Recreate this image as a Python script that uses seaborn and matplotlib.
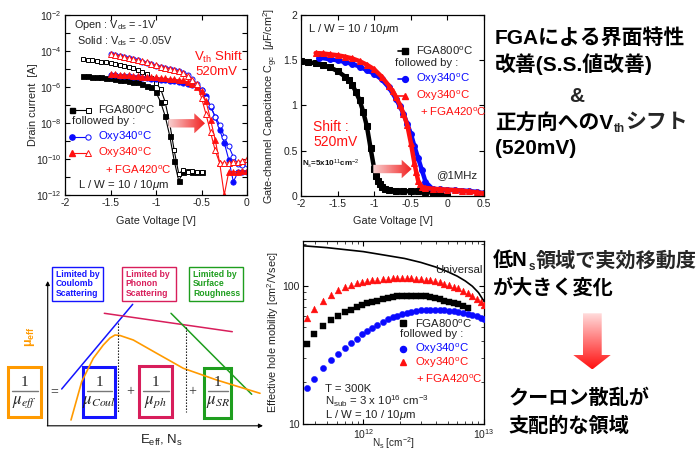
import numpy as np
import matplotlib
matplotlib.use("Agg")
import matplotlib.pyplot as plt
import seaborn as sns
from matplotlib.patches import Rectangle, Polygon
from matplotlib.colors import LinearSegmentedColormap
from matplotlib.ticker import NullFormatter

sns.set_theme(style="ticks")
plt.rcParams['font.family'] = ['Liberation Sans', 'Noto Sans CJK JP', 'DejaVu Sans']
plt.rcParams['mathtext.fontset'] = 'custom'
plt.rcParams['mathtext.rm'] = 'Liberation Sans'
plt.rcParams['mathtext.it'] = 'Liberation Sans:italic'
plt.rcParams['mathtext.bf'] = 'Liberation Sans:bold'
plt.rcParams['mathtext.sf'] = 'Liberation Sans'

# ---------------- data: Id-Vg ----------------
vg_fga = [-1.80, -1.75, -1.70, -1.65, -1.60, -1.55, -1.50, -1.45, -1.40, -1.35, -1.30, -1.25,
          -1.20, -1.15, -1.10, -1.05, -1.00, -0.95, -0.90, -0.85, -0.80, -0.75, -0.70, -0.65,
          -0.60, -0.55, -0.50]
id_fga_open = [3.5e-5, 3.2e-5, 3.0e-5, 2.8e-5, 2.6e-5, 2.3e-5, 2.1e-5, 1.9e-5, 1.7e-5, 1.5e-5,
               1.3e-5, 1.1e-5, 9e-6, 7e-6, 5e-6, 3.2e-6, 1.6e-6, 8e-7, 1.5e-7, 1e-8, 3e-10,
               1.5e-11, 2.5e-11, 2e-11, 2.2e-11, 1.8e-11, 2e-11]
id_fga_solid = [4.2e-6, 4.0e-6, 3.8e-6, 3.6e-6, 3.4e-6, 3.2e-6, 3.0e-6, 2.8e-6, 2.6e-6, 2.4e-6,
                2.2e-6, 2.0e-6, 1.8e-6, 1.5e-6, 1.2e-6, 1.0e-6, 5e-7, 1.5e-7, 2.5e-8, 2e-9,
                8e-11, 6e-12, 2e-11, 2.2e-11, 2e-11, 2e-11, 2e-11]
vg_oxy = [-1.50, -1.45, -1.40, -1.35, -1.30, -1.25, -1.20, -1.15, -1.10, -1.05, -1.00, -0.95,
          -0.90, -0.85, -0.80, -0.75, -0.70, -0.65, -0.60, -0.55, -0.50, -0.45, -0.40, -0.35,
          -0.30, -0.25, -0.20, -0.15, -0.10, -0.05, 0.00]
id_oxy_open = [6.8e-5, 6.0e-5, 5.2e-5, 4.6e-5, 4.0e-5, 3.5e-5, 3.0e-5, 2.6e-5, 2.2e-5, 1.8e-5,
               1.5e-5, 1.3e-5, 1.15e-5, 1.0e-5, 8.8e-6, 7.6e-6, 6.3e-6, 4.6e-6, 2.8e-6, 1.5e-6,
               7e-7, 2.5e-7, 9e-8, 2.2e-8, 8e-9, 1.7e-9, 5e-10, 1.3e-10, 5.5e-11, 4.5e-11, 5.5e-11]
id_oxy_solid = [4.7e-6, 4.5e-6, 4.3e-6, 4.1e-6, 3.9e-6, 3.7e-6, 3.5e-6, 3.3e-6, 3.1e-6, 2.9e-6,
                2.7e-6, 2.55e-6, 2.4e-6, 2.25e-6, 2.1e-6, 1.9e-6, 1.75e-6, 1.5e-6, 1.3e-6, 1.1e-6,
                6.8e-7, 3.2e-7, 8e-8, 2.2e-8, 4e-9, 8e-10, 9e-11, 5.5e-12, 1.8e-11, 2e-11, 2e-11]
id_fga420_open = [7e-5, 6.2e-5, 5.4e-5, 4.7e-5, 4.1e-5, 3.6e-5, 3.1e-5, 2.7e-5, 2.3e-5, 1.9e-5,
                  1.6e-5, 1.35e-5, 1.2e-5, 1.05e-5, 9e-6, 7.5e-6, 6e-6, 4.2e-6, 2.5e-6, 1.5e-6,
                  2.5e-7, 3e-8, 3e-9, 3e-10, 6e-11, 6e-11, 6e-11, 7e-11, 7e-11, 8e-11, 1e-10]
id_fga420_solid = [5.2e-6, 5.0e-6, 4.8e-6, 4.6e-6, 4.4e-6, 4.2e-6, 4.0e-6, 3.8e-6, 3.6e-6, 3.5e-6,
                   3.4e-6, 3.2e-6, 3.0e-6, 2.8e-6, 2.7e-6, 2.5e-6, 2.3e-6, 1.9e-6, 1.4e-6, 1.0e-6,
                   6e-7, 1.6e-7, 1.5e-8, 1.2e-9, 6e-11, 1e-12, 2e-11, 2e-11, 2e-11, 2.2e-11, 2.2e-11]
id_xticks = [-2, -1.5, -1, -0.5, 0]
id_xticklabels = ["-2", "-1.5", "-1", "-0.5", "0"]
id_yticks = [1e-12, 1e-11, 1e-10, 1e-9, 1e-8, 1e-7, 1e-6, 1e-5, 1e-4, 1e-3, 1e-2]
id_yticklabels = ["$10^{-12}$", "", "$10^{-10}$", "", "$10^{-8}$", "", "$10^{-6}$", "",
                  "$10^{-4}$", "", "$10^{-2}$"]

# ---------------- data: C-V ----------------
cv_vg_fga = [-2.0, -1.9, -1.8, -1.7, -1.6, -1.5, -1.4, -1.35, -1.3, -1.25, -1.2, -1.15, -1.1,
             -1.05, -1.0, -0.975, -0.95, -0.925, -0.9, -0.85, -0.8, -0.7, -0.6, -0.5, -0.4,
             -0.3, -0.2, -0.1, 0.0]
cv_c_fga = [1.49, 1.48, 1.465, 1.445, 1.42, 1.38, 1.32, 1.28, 1.23, 1.15, 1.06, 0.93, 0.77,
            0.53, 0.30, 0.22, 0.17, 0.13, 0.10, 0.08, 0.07, 0.06, 0.055, 0.05, 0.05, 0.045,
            0.035, 0.015, 0.005]
cv_vg_oxy = [-1.75, -1.6, -1.5, -1.4, -1.3, -1.2, -1.1, -1.0, -0.9, -0.8, -0.7, -0.65, -0.6,
             -0.55, -0.5, -0.45, -0.4, -0.35, -0.3, -0.275, -0.25, -0.2, -0.1, 0.0, 0.1, 0.2,
             0.3, 0.4, 0.5]
cv_c_oxy = [1.53, 1.51, 1.50, 1.48, 1.46, 1.43, 1.39, 1.35, 1.29, 1.20, 1.07, 0.99, 0.91, 0.80,
            0.69, 0.55, 0.42, 0.29, 0.16, 0.12, 0.095, 0.08, 0.072, 0.068, 0.065, 0.06, 0.055,
            0.045, 0.03]
cv_vg_fga420 = [-1.8, -1.7, -1.6, -1.5, -1.4, -1.3, -1.2, -1.1, -1.0, -0.9, -0.8, -0.75, -0.7,
                -0.65, -0.6, -0.55, -0.5, -0.45, -0.425, -0.4, -0.375, -0.35, -0.3, -0.2, -0.1,
                0.0, 0.1, 0.2, 0.3, 0.4, 0.5]
cv_c_fga420 = [1.58, 1.575, 1.565, 1.555, 1.54, 1.52, 1.49, 1.45, 1.40, 1.32, 1.22, 1.16, 1.09,
               1.01, 0.91, 0.79, 0.59, 0.36, 0.26, 0.17, 0.13, 0.10, 0.09, 0.08, 0.075, 0.07,
               0.065, 0.06, 0.05, 0.04, 0.03]
cv_xticks = [-2, -1.5, -1, -0.5, 0, 0.5]
cv_xticklabels = ["-2", "-1.5", "-1", "-0.5", "0", "0.5"]
cv_yticks = [0, 0.5, 1, 1.5, 2]
cv_yticklabels = ["0", "0.5", "1", "1.5", "2"]

# ---------------- data: mobility ----------------
ns = [3.4e11, 3.9e11, 4.6e11, 5.4e11, 6.2e11, 7.0e11, 7.9e11, 8.8e11, 9.8e11, 1.08e12, 1.19e12,
      1.3e12, 1.45e12, 1.6e12, 1.75e12, 1.9e12, 2.1e12, 2.3e12, 2.5e12, 2.75e12, 3.0e12, 3.3e12,
      3.6e12, 3.9e12, 4.3e12, 4.7e12, 5.1e12, 5.6e12, 6.1e12, 6.7e12, 7.3e12, 8.0e12, 8.7e12,
      9.4e12, 1.0e13]
mu_fga420 = [58, 68, 78, 85.5, 93, 98, 101.5, 104, 106, 107.5, 109, 110.5, 111.5, 112.5, 113,
             113.5, 113.5, 113.5, 113, 112.5, 111.5, 110.5, 109, 107.5, 106, 103, 101, 98.5, 96,
             92, 88.5, 84, 79.5, 75.5, 72]
mu_fga = [38, 44.5, 51, 56, 60, 64, 67, 70, 73, 74.5, 76, 78, 80, 81.5, 82.5, 83.5, 84, 84.5,
          84.5, 84.5, 84, 83.5, 82.5, 81, 79.5, 78, 76.5, 75, 73.5, 71, 69]
mu_oxy = [18.3, 21.2, 25.2, 29.2, 32.3, 35.2, 38.6, 41.3, 44.5, 47, 49.6, 52, 54.8, 57.3, 59,
          60.7, 62.3, 63.6, 64.7, 65.8, 66.6, 66.9, 67, 66.9, 66.6, 66.1, 65.6, 65, 64.3, 63.4,
          62.5, 61.2, 59.9, 58.6, 57.5]
ns_univ = [3.16e11, 5e11, 1e12, 1.5e12, 2.2e12, 3e12, 4e12, 5e12, 6e12, 7e12, 8e12, 9e12, 1e13]
mu_univ = [194, 188, 176, 166, 157, 147, 136, 126, 117, 108, 99, 89, 77]
mob_xticks = [1e12, 1e13]
mob_xticklabels = ["$10^{12}$", "$10^{13}$"]
mob_yticks = [10, 100]
mob_yticklabels = ["10", "100"]

# ---------------- schematic (mobility model) ----------------
sch_coul_x = [61.7, 132.7]
sch_coul_y = [389, 304.3]
sch_ph_x = [104.3, 232.3]
sch_ph_y = [313.3, 331.7]
sch_sr_x = [171, 251.7]
sch_sr_y = [313.3, 394.3]
sch_eff_x = [71, 81.7, 93.3, 103.3, 110, 115, 120, 133.3, 156.7, 183.3, 216.7, 260]
sch_eff_y = [420, 381.7, 358.3, 345, 338, 335, 335.5, 340, 353.3, 368.3, 380, 393.3]

BLACK, BLUE, RED = 'black', '#0a0aff', '#ff1010'
ORANGE, SBLUE, PINK, GREEN = '#ff9a00', '#1414ff', '#d81e5b', '#1e9e1e'

W, H = 696, 450
fig = plt.figure(figsize=(W / 100, H / 100), dpi=100)
fig.patch.set_facecolor('white')


def px_axes(x0, y0, x1, y1):
    return fig.add_axes([x0 / W, 1 - y1 / H, (x1 - x0) / W, (y1 - y0) / H])


def style(ax):
    ax.tick_params(which='major', direction='in', top=True, right=True, length=3.5,
                   width=0.8, labelsize=7.5, color='black', labelcolor='#222222', pad=2.5)
    ax.tick_params(which='minor', direction='in', top=True, right=True, length=2, width=0.6)
    for s in ax.spines.values():
        s.set_linewidth(0.9)
        s.set_color('black')
        s.set_visible(True)


ax1 = px_axes(65, 15, 247, 195)
ax2 = px_axes(301, 15, 484, 196)
ax3 = px_axes(303, 241, 484, 424)
ov = fig.add_axes([0, 0, 1, 1])
ov.set_zorder(5)
ov.patch.set_alpha(0)
ov.axis('off')

# ---------------- panel 1: Id-Vg ----------------
common = dict(ax=ax1, estimator=None, sort=False, linewidth=0.8)
sns.lineplot(x=vg_fga, y=id_fga_solid, color=BLACK, marker='s', markersize=3.6,
             markerfacecolor=BLACK, markeredgecolor=BLACK, markeredgewidth=0.6, **common)
sns.lineplot(x=vg_fga, y=id_fga_open, color=BLACK, marker='s', markersize=3.4,
             markerfacecolor='white', markeredgecolor=BLACK, markeredgewidth=0.7, **common)
sns.lineplot(x=vg_oxy, y=id_oxy_solid, color=BLUE, marker='o', markersize=3.8,
             markerfacecolor=BLUE, markeredgecolor=BLUE, markeredgewidth=0.6, **common)
sns.lineplot(x=vg_oxy, y=id_oxy_open, color=BLUE, marker='o', markersize=3.6,
             markerfacecolor='white', markeredgecolor=BLUE, markeredgewidth=0.7, **common)
sns.lineplot(x=vg_oxy, y=id_fga420_solid, color=RED, marker='^', markersize=4.2,
             markerfacecolor=RED, markeredgecolor=RED, markeredgewidth=0.6, **common)
sns.lineplot(x=vg_oxy, y=id_fga420_open, color=RED, marker='^', markersize=4.0,
             markerfacecolor='white', markeredgecolor=RED, markeredgewidth=0.7, **common)
ax1.set_yscale('log')
ax1.set_xlim(-2, 0)
ax1.set_ylim(1e-12, 1e-2)
ax1.set_xticks(id_xticks)
ax1.set_xticklabels(id_xticklabels)
ax1.set_yticks(id_yticks)
ax1.set_yticklabels(id_yticklabels)
ax1.yaxis.set_minor_formatter(NullFormatter())
ax1.yaxis.set_minor_locator(matplotlib.ticker.NullLocator())
style(ax1)
ax1.set_xlabel("Gate Voltage [V]", fontsize=7.8, color='#222222')
ax1.set_ylabel("Drain current  [A]", fontsize=7.8, color='#222222')
ax1.xaxis.set_label_coords(0.5, -0.115)
ax1.yaxis.set_label_coords(-0.15, 0.5)

# ---------------- panel 2: C-V ----------------
common2 = dict(ax=ax2, estimator=None, sort=False, linewidth=3.2)
sns.lineplot(x=cv_vg_fga, y=cv_c_fga, color=BLACK, marker='s', markersize=4,
             markerfacecolor=BLACK, markeredgecolor=BLACK, **common2)
sns.lineplot(x=cv_vg_oxy, y=cv_c_oxy, color=BLUE, marker='o', markersize=4.2,
             markerfacecolor=BLUE, markeredgecolor=BLUE, **common2)
sns.lineplot(x=cv_vg_fga420, y=cv_c_fga420, color=RED, marker='^', markersize=4.6,
             markerfacecolor=RED, markeredgecolor=RED, **common2)
ax2.set_xlim(-2, 0.5)
ax2.set_ylim(0, 2)
ax2.set_xticks(cv_xticks)
ax2.set_xticklabels(cv_xticklabels)
ax2.set_yticks(cv_yticks)
ax2.set_yticklabels(cv_yticklabels)
style(ax2)
ax2.set_xlabel("Gate Voltage [V]", fontsize=7.8, color='#222222')
ax2.set_ylabel(r"Gate-channel Capacitance C$_{\rm gc}$  [$\mu$F/cm$^{2}$]", fontsize=7.8,
               color='#222222')
ax2.xaxis.set_label_coords(0.5, -0.113)
ax2.yaxis.set_label_coords(-0.115, 0.5)

# ---------------- panel 3: mobility ----------------
sns.lineplot(x=ns_univ, y=mu_univ, ax=ax3, color=BLACK, linewidth=1.2, estimator=None, sort=False)
sns.scatterplot(x=ns[:len(mu_fga)], y=mu_fga, ax=ax3, color=BLACK, marker='s', s=16,
                edgecolor=BLACK, linewidth=0.3, zorder=3)
sns.scatterplot(x=ns, y=mu_oxy, ax=ax3, color=BLUE, marker='o', s=20, edgecolor=BLUE,
                linewidth=0.3, zorder=3)
sns.scatterplot(x=ns, y=mu_fga420, ax=ax3, color=RED, marker='^', s=24, edgecolor=RED,
                linewidth=0.3, zorder=3)
ax3.set_xscale('log')
ax3.set_yscale('log')
ax3.set_xlim(3.16e11, 1e13)
ax3.set_ylim(10, 210)
ax3.set_xticks(mob_xticks)
ax3.set_xticklabels(mob_xticklabels)
ax3.set_yticks(mob_yticks)
ax3.set_yticklabels(mob_yticklabels)
ax3.xaxis.set_minor_formatter(NullFormatter())
ax3.yaxis.set_minor_formatter(NullFormatter())
style(ax3)
ax3.set_xlabel(r"N$_{\rm s}$ [cm$^{-2}$]", fontsize=7.2, color='#222222')
ax3.set_ylabel(r"Effective hole mobility [cm$^{2}$/Vsec]", fontsize=7.8, color='#222222')
ax3.xaxis.set_label_coords(0.5, -0.062)
ax3.yaxis.set_label_coords(-0.12, 0.5)


# ---------------- overlay helpers ----------------
def grad_arrow(pts, c0, c1, vertical=False):
    poly = Polygon(pts, closed=True, facecolor='none', edgecolor='none')
    ov.add_patch(poly)
    xs = [p[0] for p in pts]
    ys = [p[1] for p in pts]
    g = np.linspace(0, 1, 256)
    grad = g[:, None] if vertical else g[None, :]
    cmap = LinearSegmentedColormap.from_list('g', [c0, c1])
    im = ov.imshow(grad, cmap=cmap, extent=(min(xs), max(xs), max(ys), min(ys)),
                   origin='upper', aspect='auto', interpolation='bilinear', zorder=4)
    im.set_clip_path(poly)


def harrow(x0, x1, xh, yc, hw, HW):
    return [(x0, yc - hw), (xh, yc - hw), (xh, yc - HW), (x1, yc), (xh, yc + HW),
            (xh, yc + hw), (x0, yc + hw)]


def legend_row(x_solid, x_open, y, color, marker, ms):
    ov.plot([x_solid, x_open], [y, y], color=color, lw=0.8, zorder=6)
    ov.plot([x_solid], [y], marker=marker, ms=ms, color=color, mec=color, zorder=7)
    ov.plot([x_open], [y], marker=marker, ms=ms, mfc='white', mec=color, mew=0.7, zorder=7)


fs_leg = 8.2
# panel 1 annotations
ov.text(74, 25.5, r"Open : V$_{\rm ds}$ = -1V", fontsize=7.8, va='center', color='#222222')
ov.text(77, 41.5, r"Solid : V$_{\rm ds}$ = -0.05V", fontsize=7.8, va='center', color='#222222')
ov.text(194, 57, r"V$_{\rm th}$ Shift", fontsize=9.5, va='center', color=RED)
ov.text(195, 72, "520mV", fontsize=9.5, va='center', color=RED)
legend_row(71.7, 88.3, 109.5, BLACK, 's', 3.6)
ov.text(98.5, 109.5, r"FGA800$^{\rm o}$C", fontsize=fs_leg, va='center', color='#222222')
ov.text(72, 121.5, "followed by :", fontsize=fs_leg, va='center', color='#222222')
legend_row(71.7, 88.3, 136.5, BLUE, 'o', 3.8)
ov.text(98.5, 136.5, r"Oxy340$^{\rm o}$C", fontsize=fs_leg, va='center', color=BLUE)
legend_row(71.7, 88.3, 152.5, RED, '^', 4.2)
ov.text(98.5, 152.5, r"Oxy340$^{\rm o}$C", fontsize=fs_leg, va='center', color=RED)
ov.text(105, 170, r"+ FGA420$^{\rm o}$C", fontsize=fs_leg, va='center', color=RED)
ov.text(78, 184.5, r"L / W = 10 / 10$\mu$m", fontsize=fs_leg, va='center', color='#222222')
grad_arrow(harrow(168.3, 205, 194.3, 123.3, 4.2, 10), '#f8d2d2', '#f22020')

# panel 2 annotations
ov.text(308, 28.5, r"L / W = 10 / 10$\mu$m", fontsize=fs_leg, va='center', color='#222222')
ov.plot([398, 405], [50.7, 50.7], color=BLACK, lw=1.2, zorder=6)
ov.plot([405], [50.7], marker='s', ms=4, color=BLACK, zorder=7)
ov.text(416.5, 50.7, r"FGA800$^{\rm o}$C", fontsize=fs_leg, va='center', color='#222222')
ov.text(395, 62.7, "followed by :", fontsize=fs_leg, va='center', color='#222222')
ov.plot([398, 405], [79, 79], color=BLUE, lw=1.2, zorder=6)
ov.plot([405], [79], marker='o', ms=4.2, color=BLUE, zorder=7)
ov.text(416.5, 79, r"Oxy340$^{\rm o}$C", fontsize=fs_leg, va='center', color=BLUE)
ov.plot([398, 405], [95.7, 95.7], color=RED, lw=1.2, zorder=6)
ov.plot([405], [95.7], marker='^', ms=4.6, color=RED, zorder=7)
ov.text(416.5, 95.7, r"Oxy340$^{\rm o}$C", fontsize=fs_leg, va='center', color=RED)
ov.text(420, 112.3, r"+ FGA420$^{\rm o}$C", fontsize=fs_leg, va='center', color=RED)
ov.text(313, 126.7, "Shift :", fontsize=10, va='center', color=RED)
ov.text(313, 141.7, "520mV", fontsize=10, va='center', color=RED)
ov.text(301.5, 163.3, r"N$_{\rm s}$=5x10$^{11}$cm$^{-2}$", fontsize=5.8, weight='bold',
        va='center', color='#111111')
ov.text(436.5, 175, "@1MHz", fontsize=fs_leg, va='center', color='#222222')
grad_arrow(harrow(373.3, 411.7, 401.7, 169, 4.2, 9.2), '#f8d2d2', '#f22020')

# panel 3 annotations
ov.text(435, 270, "Universal", fontsize=fs_leg, va='center', color='#222222')
ov.plot([403], [323.3], marker='s', ms=4, color=BLACK, zorder=7, ls='none')
ov.text(415, 323.3, r"FGA800$^{\rm o}$C", fontsize=fs_leg, va='center', color='#222222')
ov.text(400.5, 334.3, "followed by :", fontsize=fs_leg, va='center', color='#222222')
ov.plot([403], [349], marker='o', ms=4.4, color=BLUE, zorder=7, ls='none')
ov.text(415, 349, r"Oxy340$^{\rm o}$C", fontsize=fs_leg, va='center', color=BLUE)
ov.plot([403], [362.3], marker='^', ms=4.8, color=RED, zorder=7, ls='none')
ov.text(415, 362.3, r"Oxy340$^{\rm o}$C", fontsize=fs_leg, va='center', color=RED)
ov.text(416.5, 379, r"+ FGA420$^{\rm o}$C", fontsize=fs_leg, va='center', color=RED)
ov.text(325, 389, "T = 300K", fontsize=fs_leg, va='center', color='#222222')
ov.text(325, 401.5, r"N$_{\rm sub}$ = 3 x 10$^{16}$ cm$^{-3}$", fontsize=fs_leg, va='center',
        color='#222222')
ov.text(325, 415.5, r"L / W = 10 / 10$\mu$m", fontsize=fs_leg, va='center', color='#222222')

# ---------------- schematic ----------------
arrow_kw = dict(arrowstyle='-|>', color='black', lw=0.8, mutation_scale=6, shrinkA=0, shrinkB=0)
ov.annotate('', xy=(47.7, 281), xytext=(47.7, 425.8), arrowprops=arrow_kw)
ov.annotate('', xy=(263, 425.8), xytext=(47.3, 425.8), arrowprops=arrow_kw)
ov.plot(sch_coul_x, sch_coul_y, color=SBLUE, lw=1.1)
ov.plot(sch_ph_x, sch_ph_y, color=PINK, lw=1.1)
ov.plot(sch_sr_x, sch_sr_y, color=GREEN, lw=1.1)
ov.plot(sch_eff_x, sch_eff_y, color=ORANGE, lw=1.2)
ov.plot([118.3, 118.3], [323, 412], color='black', lw=0.8, ls=(0, (1.2, 1.5)))
ov.plot([185.7, 185.7], [327, 412], color='black', lw=0.8, ls=(0, (1.2, 1.5)))
for (bx0, bx1, col, txt) in [(51.7, 103.3, SBLUE, "Limited by\nCoulomb\nScattering"),
                             (121.7, 175.7, PINK, "Limited by\nPhonon\nScattering"),
                             (189, 243.3, GREEN, "Limited by\nSurface\nRoughness")]:
    ov.add_patch(Rectangle((bx0, 266.7), bx1 - bx0, 34.3, fill=False, edgecolor=col, lw=1.0))
    ov.text(bx0 + 4, 284, txt, fontsize=6.2, weight='bold', color=col, va='center',
            linespacing=1.12)
ov.text(30, 337, r"μ$_{\mathbf{eff}}$", fontsize=9, weight='bold', color=ORANGE, rotation=90,
        ha='center', va='center')
for (bx0, bx1, by0, by1, col, sub) in [(8.3, 40.7, 366.7, 416.7, ORANGE, "eff"),
                                       (83.3, 115, 366.7, 416.7, SBLUE, "Coul"),
                                       (139.3, 172.3, 366, 416.7, PINK, "ph"),
                                       (204, 231, 368.3, 418.3, GREEN, "SR")]:
    ov.add_patch(Rectangle((bx0, by0), bx1 - bx0, by1 - by0, fill=False, edgecolor=col, lw=2.2))
    cx = (bx0 + bx1) / 2
    ov.text(cx, 382.5, "1", fontsize=11, family='Liberation Serif', ha='center', va='center',
            color='#222222')
    ov.plot([bx0 + 4, bx1 - 3], [391, 391], color='#777777', lw=1.0)
    ov.text(cx, 402, r"$\mu_{%s}$" % sub, fontsize=12, math_fontfamily='stix', ha='center',
            va='center', color='#222222')
for (xx, sym) in [(54.3, "="), (130.7, "+"), (192.3, "+")]:
    ov.text(xx, 391.5, sym, fontsize=10, family='Liberation Serif', ha='center', va='center',
            color='#333333')
ov.text(161.7, 440, r"E$_{\rm eff}$, N$_{\rm s}$", fontsize=9.5, ha='center', va='center',
        color='#222222')

# ---------------- right-side Japanese text ----------------
JP = ['Liberation Sans', 'Noto Sans CJK JP']
jpkw = dict(family=JP, weight='bold', color='black', va='center', ha='left')
ov.text(495, 37.5, "FGAによる界面特性", fontsize=15, **jpkw)
ov.text(495, 64, "改善(S.S.値改善)", fontsize=15, **jpkw)
ov.text(576.7, 96, "&", fontsize=15, family=JP, weight='bold', ha='center', va='center')
t = ov.text(495, 122.5, "正方向へのV", fontsize=15, **jpkw)
t2 = ov.annotate("th", xy=(1, 0.15), xycoords=t, xytext=(0.3, 0), textcoords='offset points',
                 fontsize=8.5, family=JP, weight='bold', ha='left', va='center')
ov.annotate("シフト", xy=(1, 0.5), xycoords=(t2, t), xytext=(0.5, 0),
            textcoords='offset points', fontsize=15, family=JP, weight='bold', ha='left',
            va='center')
ov.text(495, 148.3, "(520mV)", fontsize=15, **jpkw)

b = ov.text(493.3, 260.8, "低N", fontsize=14.5, **jpkw)
b2 = ov.annotate("s", xy=(1, 0.15), xycoords=b, xytext=(0.3, 0), textcoords='offset points',
                 fontsize=8.5, family=JP, weight='bold', ha='left', va='center')
ov.annotate("領域で実効移動度", xy=(1, 0.5), xycoords=(b2, b), xytext=(0.5, 0),
            textcoords='offset points', fontsize=14.5, family=JP, weight='bold', ha='left',
            va='center')
ov.text(493.3, 287.5, "が大きく変化", fontsize=14.5, **jpkw)
grad_arrow([(583, 313.3), (601.7, 313.3), (601.7, 355), (610.7, 355), (592.3, 369.5),
            (573.3, 355), (583, 355)], '#ffe0e0', '#ff1010', vertical=True)
ov.text(508.3, 398.3, "クーロン散乱が", fontsize=14.5, **jpkw)
ov.text(508.3, 425.8, "支配的な領域", fontsize=14.5, **jpkw)

ov.set_xlim(0, W)
ov.set_ylim(H, 0)

fig.savefig("out.png", dpi=100, facecolor='white')
